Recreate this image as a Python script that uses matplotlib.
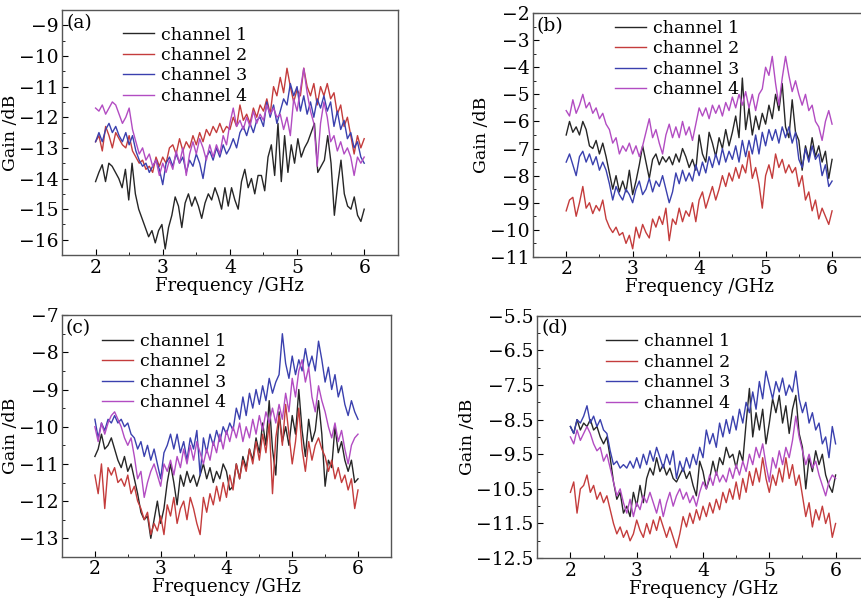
import numpy as np
import matplotlib
matplotlib.use("Agg")
import matplotlib.pyplot as plt
from matplotlib.ticker import MultipleLocator

plt.rcParams['font.family'] = ['DejaVu Serif']
plt.rcParams['font.size'] = 12.5

labels = ['channel 1', 'channel 2', 'channel 3', 'channel 4']
colors = ['#262626', '#c43c3c', '#3a40ae', '#b24cc2']

# ---- panel (a) ----
a_ch1 = [-14.1, -13.8, -13.55, -14.1, -13.5, -13.6, -13.8, -14.0, -14.3, -13.7, -14.7, -13.5, -14.5, -15.0,
         -15.3, -15.6, -15.9, -15.7, -16.1, -15.7, -15.5, -16.3, -15.6, -15.2, -14.6, -14.9, -15.6, -14.8,
         -14.5, -14.9, -14.6, -14.9, -15.3, -14.8, -14.5, -14.7, -14.3, -14.6, -15.0, -14.3, -14.9, -14.3,
         -14.7, -15.0, -14.1, -13.7, -14.3, -14.0, -14.5, -13.9, -13.9, -14.4, -13.3, -12.9, -13.9, -12.2,
         -14.1, -12.6, -13.8, -12.9, -13.5, -12.7, -13.3, -13.0, -12.8, -12.5, -12.2, -13.8, -13.6, -13.4,
         -12.6, -13.5, -15.2, -14.2, -13.4, -14.5, -14.9, -15.0, -14.6, -15.2, -15.4, -15.0]
a_ch2 = [-12.8, -12.6, -13.1, -12.3, -12.6, -13.0, -12.5, -12.7, -12.9, -13.0, -12.6, -13.1, -13.3, -13.5,
         -13.4, -13.7, -13.6, -13.8, -13.3, -13.6, -13.3, -13.5, -13.0, -12.9, -13.2, -12.7, -13.1, -12.8,
         -13.0, -12.6, -12.9, -12.5, -12.8, -12.4, -12.6, -12.3, -12.5, -12.2, -12.5, -12.3, -12.4, -12.0,
         -12.3, -11.6, -12.1, -11.9, -12.2, -11.7, -12.0, -11.6, -11.8, -11.4, -11.9, -11.0, -11.3, -10.7,
         -11.2, -10.4, -11.0, -11.5, -11.1, -11.3, -10.4, -11.0, -11.3, -10.9, -11.6, -11.0, -11.3, -10.9,
         -11.4, -11.2, -11.9, -11.6, -12.3, -12.0, -12.6, -13.2, -12.6, -13.0, -12.7]
a_ch3 = [-12.8, -12.5, -12.8, -12.4, -12.2, -12.5, -12.3, -12.6, -12.8, -12.5, -12.9, -12.6, -13.1, -13.4,
         -13.6, -13.5, -13.8, -13.6, -13.4, -13.7, -14.2, -13.5, -13.3, -13.6, -13.2, -13.5, -13.3, -13.8,
         -13.4, -13.6, -13.2, -13.5, -14.0, -13.3, -13.1, -13.4, -13.0, -13.3, -12.9, -13.2, -13.0, -12.7,
         -13.0, -12.5, -12.3, -12.6, -12.2, -12.5, -12.1, -12.0, -12.3, -11.5, -12.0, -11.6, -12.2, -11.8,
         -11.4, -11.6, -10.9, -11.3, -11.0, -11.8, -11.3, -11.9, -11.5, -12.0, -11.4, -11.7, -11.3, -11.8,
         -11.5, -12.3, -11.8, -12.4, -12.1, -12.7, -12.5, -13.0, -12.8, -13.3, -13.5]
a_ch4 = [-11.7, -11.8, -11.6, -11.9, -11.7, -11.5, -11.6, -11.9, -12.2, -12.0, -11.7, -12.4, -12.8, -13.2,
         -13.0, -13.4, -13.2, -13.6, -13.4, -13.9, -13.5, -13.8, -13.4, -13.7, -13.1, -13.5, -13.0, -13.9,
         -13.2, -12.8, -13.2, -12.7, -13.0, -13.4, -12.9, -13.3, -12.9, -13.2, -12.6, -12.9, -12.2, -11.7,
         -12.3, -12.1, -12.4, -12.0, -12.3, -11.8, -12.2, -11.9, -12.1, -11.6, -11.9, -11.7, -12.0, -11.9,
         -12.4, -12.0, -12.6, -11.4, -11.8, -11.1, -10.4, -11.2, -11.8, -12.2, -13.6, -12.2, -11.5, -12.0,
         -12.8, -12.6, -13.1, -12.8, -13.2, -13.0, -13.3, -13.9, -13.3, -13.5, -13.3]

# ---- panel (b) ----
b_ch1 = [-6.5, -6.0, -6.4, -6.2, -6.5, -6.0, -6.3, -6.9, -7.0, -6.7, -7.2, -6.8, -7.3, -7.9, -8.5, -8.0,
         -8.6, -8.2, -8.6, -7.8, -8.7, -8.2, -7.6, -6.9, -7.5, -8.1, -7.4, -7.2, -7.6, -7.3, -7.5, -7.3,
         -7.6, -7.2, -7.5, -7.0, -7.3, -7.7, -7.4, -7.8, -6.5, -7.2, -7.5, -6.4, -6.8, -7.3, -6.6, -7.0,
         -6.3, -6.9, -6.4, -5.8, -6.6, -4.4, -6.3, -5.5, -6.5, -5.8, -6.3, -5.7, -6.1, -5.4, -5.9, -5.0,
         -5.6, -4.6, -6.2, -6.6, -5.2, -6.4, -6.7, -7.8, -6.9, -7.4, -6.6, -7.3, -6.9, -7.5, -7.1, -8.1, -7.4]
b_ch2 = [-9.3, -8.9, -8.8, -9.5, -9.0, -8.4, -9.2, -9.0, -9.4, -9.1, -9.3, -8.9, -9.6, -9.9, -10.1, -9.9,
         -10.2, -10.1, -10.5, -10.2, -10.7, -9.9, -10.3, -9.8, -10.1, -10.3, -9.6, -9.9, -9.5, -9.8, -9.2,
         -10.4, -9.6, -9.8, -9.2, -9.7, -9.3, -9.5, -9.0, -9.7, -8.9, -8.6, -9.2, -8.8, -8.4, -8.9, -8.5,
         -8.0, -8.4, -7.9, -8.2, -7.7, -8.1, -7.6, -7.9, -7.1, -8.1, -7.7, -8.3, -9.2, -8.0, -7.6, -8.1,
         -7.2, -7.7, -7.4, -7.9, -7.6, -7.9, -7.7, -8.4, -8.0, -8.9, -8.6, -9.3, -8.9, -9.6, -9.2, -9.5,
         -9.8, -9.3]
b_ch3 = [-7.5, -7.2, -7.6, -8.0, -7.3, -7.1, -7.5, -7.2, -7.6, -7.3, -7.8, -7.5, -7.8, -8.3, -8.9, -8.4,
         -8.7, -8.9, -8.5, -8.7, -9.0, -8.5, -8.2, -8.7, -8.5, -8.1, -8.6, -8.2, -8.4, -8.0, -8.5, -9.0,
         -8.6, -7.9, -8.3, -7.8, -8.2, -7.9, -8.2, -7.6, -8.0, -7.5, -7.9, -7.3, -7.7, -7.2, -7.6, -7.0,
         -7.5, -7.1, -7.4, -6.9, -7.5, -6.7, -7.3, -6.7, -7.2, -6.5, -7.2, -6.4, -6.9, -6.3, -6.7, -6.3,
         -6.8, -6.2, -6.6, -6.2, -6.8, -6.4, -7.4, -7.7, -7.0, -7.5, -6.9, -7.4, -7.2, -8.0, -7.6, -8.4, -8.2]
b_ch4 = [-5.6, -5.8, -5.2, -5.7, -5.4, -5.0, -5.5, -5.3, -5.7, -5.5, -5.9, -5.7, -6.1, -6.3, -6.8, -6.6,
         -7.2, -6.9, -7.1, -6.8, -7.2, -6.9, -7.3, -6.9, -6.4, -5.9, -6.6, -6.3, -6.8, -7.2, -6.5, -6.1,
         -6.6, -6.2, -6.6, -6.0, -6.5, -6.2, -6.7, -6.1, -5.5, -5.8, -5.5, -5.9, -5.4, -5.7, -5.4, -5.8,
         -5.3, -5.6, -5.1, -5.5, -5.0, -5.4, -4.9, -5.5, -5.0, -5.6, -5.0, -4.8, -4.0, -4.3, -3.6, -4.6,
         -5.4, -4.4, -3.6, -4.3, -4.9, -4.5, -5.0, -5.4, -5.0, -5.6, -5.4, -6.0, -6.2, -6.7, -6.0, -5.6, -6.1]

# ---- panel (c) ----
c_ch1 = [-10.8, -10.6, -10.2, -10.6, -10.5, -10.3, -10.6, -10.9, -11.1, -10.8, -11.2, -11.0, -11.4, -11.8,
         -12.3, -12.5, -12.4, -13.0, -12.5, -12.0, -12.6, -12.2, -11.5, -11.0, -11.5, -12.1, -11.3, -11.6,
         -11.2, -11.5, -11.3, -11.6, -11.3, -11.0, -11.4, -11.1, -11.5, -11.2, -11.4, -11.0, -11.2, -11.7,
         -11.6, -11.0, -11.4, -10.8, -11.1, -10.6, -10.9, -10.3, -10.7, -9.9, -10.5, -9.3, -10.6, -11.3,
         -9.6, -10.4, -10.0, -10.5, -9.7, -10.2, -9.0, -10.1, -10.8, -9.8, -10.4, -10.1, -9.3, -10.2, -11.6,
         -10.9, -11.1, -10.0, -10.7, -10.4, -10.9, -11.2, -10.9, -11.5, -11.4]
c_ch2 = [-11.3, -11.8, -11.0, -12.2, -11.1, -11.3, -11.1, -11.5, -11.4, -11.6, -11.3, -11.8, -11.6, -12.0,
         -12.2, -12.5, -12.3, -12.9, -12.6, -12.8, -12.4, -12.9, -12.1, -12.4, -11.9, -12.6, -12.2, -12.0,
         -12.5, -11.9, -12.2, -12.6, -12.9, -11.9, -12.3, -11.8, -12.1, -11.6, -12.0, -11.5, -11.9, -11.3,
         -11.7, -11.0, -11.4, -10.9, -11.2, -10.6, -11.0, -10.4, -10.9, -10.2, -10.7, -9.9, -11.8, -10.3,
         -9.7, -10.5, -9.4, -10.2, -11.0, -10.4, -9.5, -10.6, -11.2, -10.4, -10.9, -10.5, -10.3, -10.6,
         -10.8, -11.2, -10.9, -11.4, -11.1, -11.5, -11.3, -11.7, -11.4, -12.2, -11.7]
c_ch3 = [-9.8, -10.3, -9.9, -10.1, -9.8, -9.9, -9.7, -9.9, -9.8, -10.0, -9.9, -10.2, -10.3, -10.6, -10.4,
         -10.8, -10.5, -10.9, -10.6, -11.0, -11.4, -10.7, -10.5, -10.2, -10.6, -10.2, -10.7, -10.4, -10.9,
         -10.3, -10.6, -10.1, -11.3, -10.3, -10.7, -10.2, -10.5, -10.1, -10.4, -10.0, -10.2, -9.9, -10.1,
         -9.5, -9.8, -9.2, -9.7, -9.1, -9.5, -9.0, -9.4, -8.9, -9.3, -8.7, -9.1, -8.8, -8.6, -7.5, -8.3,
         -8.7, -8.1, -8.6, -8.2, -8.5, -7.9, -8.4, -8.1, -8.5, -7.7, -8.2, -8.8, -8.4, -9.0, -8.6, -9.2,
         -8.9, -9.4, -9.7, -9.3, -9.6, -9.8]
c_ch4 = [-10.0, -10.4, -9.9, -10.2, -9.9, -9.7, -9.6, -9.8, -10.0, -10.3, -10.5, -10.3, -10.8, -11.4, -11.2,
         -11.9, -11.5, -11.2, -11.0, -11.3, -11.6, -11.0, -11.2, -10.9, -11.3, -10.8, -11.1, -10.6, -11.0,
         -10.5, -10.9, -10.4, -10.7, -11.0, -10.6, -10.9, -10.4, -10.7, -10.2, -10.6, -10.1, -10.4, -10.0,
         -10.3, -9.9, -10.4, -10.0, -10.3, -9.8, -10.2, -9.7, -10.1, -9.6, -9.9, -9.5, -9.9, -9.4, -9.8,
         -9.1, -9.6, -8.7, -9.2, -8.5, -8.2, -8.8, -8.4, -9.2, -9.6, -8.9, -9.3, -9.6, -10.0, -10.3, -9.9,
         -10.4, -10.1, -10.6, -11.0, -10.5, -10.3, -10.2]

# ---- panel (d) ----
d_ch1 = [-8.7, -8.9, -8.5, -8.8, -8.6, -8.7, -8.5, -8.8, -8.7, -9.0, -9.2, -9.0, -9.6, -10.3, -10.8, -10.6,
         -11.2, -11.0, -11.3, -10.6, -11.0, -10.4, -10.9, -10.2, -9.9, -10.1, -9.6, -10.0, -9.8, -10.1,
         -9.9, -10.2, -10.3, -10.1, -9.9, -10.2, -10.0, -10.4, -10.7, -9.7, -10.0, -10.5, -10.2, -9.7,
         -10.1, -9.6, -9.8, -9.3, -9.6, -9.5, -9.9, -9.4, -9.7, -8.6, -7.6, -9.0, -8.3, -8.8, -8.2, -9.2,
         -8.6, -7.9, -8.3, -7.8, -8.6, -8.1, -8.9, -8.2, -7.8, -8.9, -9.3, -10.5, -9.6, -10.0, -9.4, -9.8,
         -9.5, -10.1, -10.4, -10.6, -10.1]
d_ch2 = [-10.6, -10.3, -11.2, -10.5, -10.4, -10.1, -10.6, -10.4, -10.8, -10.6, -10.9, -10.7, -11.1, -11.5,
         -11.8, -11.6, -11.9, -11.7, -12.0, -11.8, -11.4, -11.7, -11.9, -11.5, -11.8, -11.4, -11.7, -11.3,
         -11.6, -11.9, -11.6, -11.9, -12.2, -11.8, -11.3, -11.6, -11.2, -11.5, -11.1, -11.4, -11.0, -11.3,
         -10.9, -11.2, -10.8, -11.1, -10.6, -10.9, -10.5, -10.8, -10.3, -10.8, -10.2, -10.6, -10.0, -10.4,
         -9.9, -10.3, -9.6, -10.2, -10.6, -10.1, -10.4, -9.9, -10.3, -9.6, -10.2, -9.8, -10.4, -10.1, -10.7,
         -11.3, -10.9, -11.6, -11.1, -11.4, -11.0, -11.5, -11.2, -11.9, -11.5]
d_ch3 = [-8.7, -8.9, -8.5, -8.6, -8.4, -8.1, -8.6, -8.4, -8.7, -8.5, -8.8, -8.9, -9.4, -9.8, -9.7, -9.9,
         -9.8, -9.9, -9.7, -9.9, -9.6, -9.9, -9.5, -9.8, -9.4, -9.7, -9.3, -9.6, -9.9, -9.5, -9.8, -9.4,
         -10.2, -9.7, -10.0, -9.6, -9.9, -9.5, -9.8, -9.3, -9.6, -8.8, -9.2, -8.9, -9.3, -8.6, -9.0, -8.5,
         -8.9, -8.4, -8.8, -8.2, -8.6, -8.0, -8.3, -7.7, -8.2, -7.4, -7.9, -7.1, -7.5, -7.9, -7.4, -7.7,
         -7.3, -7.8, -7.5, -7.7, -7.1, -7.9, -8.3, -8.0, -8.6, -8.3, -8.8, -8.6, -9.2, -9.0, -9.6, -8.7, -9.2]
d_ch4 = [-9.0, -9.2, -8.8, -9.1, -8.9, -8.7, -8.9, -9.2, -9.4, -9.3, -9.7, -9.5, -9.9, -10.3, -10.7, -10.5,
         -10.9, -11.2, -10.8, -11.3, -10.9, -11.1, -10.7, -10.9, -10.6, -10.9, -11.2, -10.8, -11.3, -10.9,
         -10.6, -11.0, -10.7, -10.5, -10.8, -10.6, -10.9, -10.7, -11.0, -10.6, -10.3, -10.5, -10.1, -10.4,
         -10.0, -10.3, -10.1, -10.3, -9.9, -10.2, -9.8, -10.1, -9.7, -10.0, -9.5, -9.8, -9.3, -9.6, -9.2,
         -9.8, -10.3, -9.6, -9.9, -9.4, -9.8, -9.3, -9.6, -9.1, -8.4, -9.0, -9.4, -9.8, -9.5, -9.9, -9.7,
         -10.1, -10.4, -10.7, -10.3, -10.1, -10.2]

panels = [
    ('(a)', [a_ch1, a_ch2, a_ch3, a_ch4], (-16.5, -8.5), np.arange(-16, -8.9, 1), 0.5,
     [0.072, 0.579, 0.390, 0.4045], (0.15, 0.975)),
    ('(b)', [b_ch1, b_ch2, b_ch3, b_ch4], (-11, -2), np.arange(-11, -1.9, 1), 0.5,
     [0.619, 0.576, 0.386, 0.4025], (0.215, 1.015)),
    ('(c)', [c_ch1, c_ch2, c_ch3, c_ch4], (-13.5, -7), np.arange(-13, -6.9, 1), 0.5,
     [0.072, 0.081, 0.382, 0.399], (0.09, 0.97)),
    ('(d)', [d_ch1, d_ch2, d_ch3, d_ch4], (-12.5, -5.5), np.arange(-12.5, -5.4, 1), 0.5,
     [0.624, 0.079, 0.385, 0.400], (0.175, 0.97)),
]

fig = plt.figure(figsize=(8.61, 6.06), dpi=100)

for tag, series, ylim, yticks, yminor, rect, legpos in panels:
    ax = fig.add_axes(rect)
    for s, lab, col in zip(series, labels, colors):
        freq = np.linspace(2, 6, len(s))
        ax.plot(freq, s, color=col, lw=1.0, label=lab)
    ax.set_xlim(1.5, 6.5)
    ax.set_ylim(*ylim)
    ax.set_xticks([2, 3, 4, 5, 6])
    ax.set_yticks(yticks)
    ax.xaxis.set_minor_locator(MultipleLocator(0.5))
    ax.yaxis.set_minor_locator(MultipleLocator(yminor))
    ax.tick_params(which='both', direction='in', top=False, right=False, labelsize=13.5, pad=2.5)
    ax.tick_params(which='major', length=4)
    ax.tick_params(which='minor', length=2.5)
    ax.yaxis.set_major_formatter(plt.FuncFormatter(lambda v, p: ('%g' % v).replace('-', '\u2212')))
    for sp in ax.spines.values():
        sp.set_color('#555555')
        sp.set_linewidth(1.0)
    ax.set_xlabel('Frequency /GHz', fontsize=13, labelpad=0)
    ax.set_ylabel('Gain /dB', fontsize=12.5, labelpad=0)
    ax.text(0.012, 0.985, tag, transform=ax.transAxes, ha='left', va='top', fontsize=13.5)
    ax.legend(loc='upper left', bbox_to_anchor=legpos, frameon=False, fontsize=12.5,
              handlelength=1.8, handletextpad=0.4, labelspacing=0.2, borderaxespad=0.2)

fig.savefig('out.png', dpi=100)
